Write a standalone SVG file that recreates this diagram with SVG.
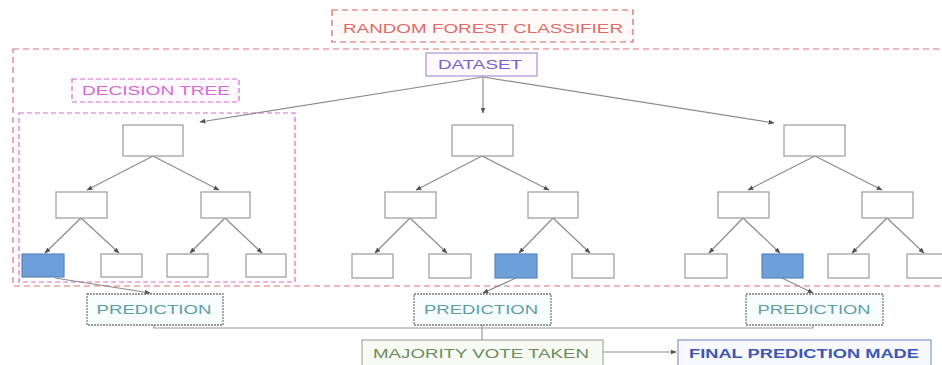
<svg xmlns="http://www.w3.org/2000/svg" width="942" height="365" viewBox="0 0 942 365">
<defs>
<marker id="ah" viewBox="0 0 10 10" refX="9" refY="5" markerWidth="5" markerHeight="5" orient="auto-start-reverse">
<path d="M0,1 L10,5 L0,9 z" fill="#555"/>
</marker>
<style>
text{font-family:"Liberation Sans",Arial,sans-serif;font-size:13px;text-anchor:middle}
.node{fill:#fff;stroke:#9a9a9a;stroke-width:1.2}
.leaf{fill:#fff;stroke:#9a9a9a;stroke-width:1.2}
.sel{fill:#6d9fd9;stroke:#5a86bf;stroke-width:1.2}
.edge{stroke:#8c8c8c;stroke-width:1.2;fill:none;marker-end:url(#ah)}
.plain{stroke:#9a9a9a;stroke-width:1.2;fill:none}
.pred{fill:#f7fcfc;stroke:#7a7a7a;stroke-width:1.3;stroke-dasharray:2 1}
.predt{fill:#5e9fa6}
</style>
</defs>
<rect width="942" height="365" fill="#fff"/>

<g id="forest-frame">
<rect x="13" y="49" width="940" height="237" fill="none" stroke="#e07070" stroke-width="1.2" stroke-dasharray="6 4"/>
</g>
<g id="title">
<rect x="332" y="10" width="301" height="32" fill="#fffafa" stroke="#d9605a" stroke-width="1.2" stroke-dasharray="6 4"/>
<text x="483" y="33" fill="#e06a66" textLength="280" lengthAdjust="spacingAndGlyphs" font-size="14">RANDOM FOREST CLASSIFIER</text>
</g>
<g id="dataset">
<rect x="426" y="53" width="111" height="23" fill="#fdfbff" stroke="#a892d8" stroke-width="1.2"/>
<text x="480" y="69" fill="#7a5fd0" textLength="84" lengthAdjust="spacingAndGlyphs" font-size="12">DATASET</text>
</g>
<g id="decision-tree-label">
<rect x="72" y="79" width="167" height="23" fill="#fffaff" stroke="#d466d6" stroke-width="1.2" stroke-dasharray="5 3"/>
<text x="156" y="95" fill="#d46ad6" textLength="148" lengthAdjust="spacingAndGlyphs" font-size="12">DECISION TREE</text>
</g>
<g id="decision-tree-frame">
<rect x="19" y="113" width="276" height="169" fill="none" stroke="#d866d8" stroke-width="1.2" stroke-dasharray="5 3"/>
</g>

<g id="connectors">
<path class="edge" d="M483,77 L200,122"/>
<path class="edge" d="M483,77 L483,113"/>
<path class="edge" d="M483,77 L774,123"/>
<!-- tree 1 -->
<path class="edge" d="M153,156 L87,190"/>
<path class="edge" d="M153,156 L219,190"/>
<path class="edge" d="M81,218 L45,253"/>
<path class="edge" d="M81,218 L119,253"/>
<path class="edge" d="M225,218 L190,253"/>
<path class="edge" d="M225,218 L262,253"/>
<!-- tree 2 -->
<path class="edge" d="M482,156 L416,190"/>
<path class="edge" d="M482,156 L549,190"/>
<path class="edge" d="M410,218 L375,253"/>
<path class="edge" d="M410,218 L447,253"/>
<path class="edge" d="M553,218 L519,253"/>
<path class="edge" d="M553,218 L590,253"/>
<!-- tree 3 -->
<path class="edge" d="M815,156 L748,190"/>
<path class="edge" d="M815,156 L882,190"/>
<path class="edge" d="M743,218 L709,253"/>
<path class="edge" d="M743,218 L780,253"/>
<path class="edge" d="M887,218 L852,253"/>
<path class="edge" d="M887,218 L924,253"/>
<!-- to predictions -->
<path class="edge" d="M55,278 L150,293"/>
<path class="edge" d="M516,278 L483,293"/>
<path class="edge" d="M782,278 L813,293"/>
<!-- to vote -->
<path class="plain" d="M154,325 L154,328 L813,328 L813,325"/>
<path class="plain" d="M482,325 L482,340"/>
<path class="edge" d="M603,352 L676,352"/>
</g>

<g id="tree1">
<rect class="node" x="123" y="125" width="60" height="31"/>
<rect class="node" x="56" y="192" width="51" height="26"/>
<rect class="node" x="201" y="192" width="49" height="26"/>
<rect class="sel" x="22" y="254" width="42" height="23"/>
<rect class="leaf" x="101" y="254" width="41" height="23"/>
<rect class="leaf" x="167" y="254" width="41" height="23"/>
<rect class="leaf" x="246" y="254" width="40" height="23"/>
</g>
<g id="tree2">
<rect class="node" x="452" y="125" width="61" height="31"/>
<rect class="node" x="385" y="192" width="51" height="26"/>
<rect class="node" x="528" y="192" width="50" height="26"/>
<rect class="leaf" x="352" y="254" width="41" height="24"/>
<rect class="leaf" x="429" y="254" width="42" height="24"/>
<rect class="sel" x="495" y="254" width="42" height="24"/>
<rect class="leaf" x="572" y="254" width="42" height="24"/>
</g>
<g id="tree3">
<rect class="node" x="784" y="125" width="61" height="31"/>
<rect class="node" x="718" y="192" width="51" height="26"/>
<rect class="node" x="862" y="192" width="51" height="26"/>
<rect class="leaf" x="685" y="254" width="42" height="24"/>
<rect class="sel" x="762" y="254" width="41" height="24"/>
<rect class="leaf" x="828" y="254" width="41" height="24"/>
<rect class="leaf" x="907" y="254" width="40" height="24"/>
</g>

<g id="prediction1">
<rect class="pred" x="87" y="294" width="136" height="31"/>
<text class="predt" x="154" y="314" textLength="115" lengthAdjust="spacingAndGlyphs">PREDICTION</text>
</g>
<g id="prediction2">
<rect class="pred" x="414" y="294" width="137" height="31"/>
<text class="predt" x="481" y="314" textLength="114" lengthAdjust="spacingAndGlyphs">PREDICTION</text>
</g>
<g id="prediction3">
<rect class="pred" x="746" y="294" width="137" height="31"/>
<text class="predt" x="814" y="314" textLength="113" lengthAdjust="spacingAndGlyphs">PREDICTION</text>
</g>
<g id="majority-vote">
<rect x="362" y="340" width="241" height="30" fill="#f7fbf4" stroke="#a8a8a8" stroke-width="1.2"/>
<text x="481" y="358" fill="#6b8c5c" textLength="216" lengthAdjust="spacingAndGlyphs">MAJORITY VOTE TAKEN</text>
</g>
<g id="final-prediction">
<rect x="678" y="340" width="253" height="30" fill="#f8f9ff" stroke="#8a95c8" stroke-width="1.2"/>
<text x="804" y="358" fill="#3d57b3" textLength="230" lengthAdjust="spacingAndGlyphs" font-weight="bold">FINAL PREDICTION MADE</text>
</g>
</svg>
